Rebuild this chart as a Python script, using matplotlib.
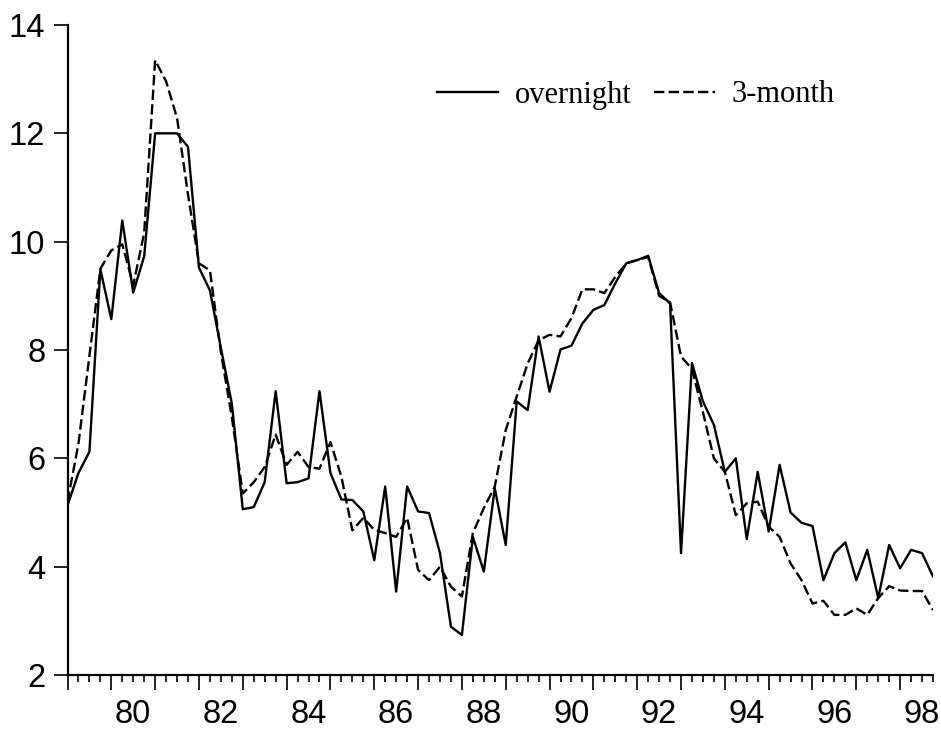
import numpy as np
from matplotlib import pyplot as plt
from matplotlib.ticker import FixedLocator, FuncFormatter, NullFormatter

# quarterly observations, 1979Q1 - 1998Q4
start_year = 1979
n_quarters = 80

overnight = [
    5.13, 5.73, 6.12, 9.49, 8.57, 10.39, 9.06, 9.73,
    12.0, 12.0, 12.0, 11.75, 9.52, 9.10, 8.04, 7.01,
    5.06, 5.10, 5.56, 7.24, 5.54, 5.56, 5.63, 7.24,
    5.73, 5.24, 5.23, 5.02, 4.12, 5.48, 3.54, 5.48,
    5.02, 4.99, 4.25, 2.89, 2.74, 4.55, 3.91, 5.45,
    4.40, 7.05, 6.89, 8.25, 7.23, 8.01, 8.08, 8.49,
    8.74, 8.83, 9.23, 9.60, 9.66, 9.74, 9.05, 8.86,
    4.25, 7.76, 7.05, 6.62, 5.75, 6.00, 4.51, 5.75,
    4.65, 5.88, 5.00, 4.81, 4.75, 3.75, 4.25, 4.45,
    3.75, 4.31, 3.42, 4.40, 3.97, 4.31, 4.25, 3.82,
]

three_month = [
    5.20, 6.27, 7.89, 9.50, 9.84, 9.95, 9.20, 10.16,
    13.35, 12.96, 12.28, 10.87, 9.60, 9.47, 7.96, 6.76,
    5.35, 5.56, 5.84, 6.44, 5.88, 6.12, 5.84, 5.81,
    6.30, 5.66, 4.67, 4.90, 4.68, 4.62, 4.55, 4.90,
    3.94, 3.75, 4.00, 3.63, 3.45, 4.62, 5.08, 5.48,
    6.52, 7.14, 7.75, 8.18, 8.28, 8.25, 8.59, 9.12,
    9.12, 9.05, 9.35, 9.60, 9.66, 9.72, 9.00, 8.88,
    7.88, 7.65, 6.85, 6.00, 5.75, 4.95, 5.17, 5.20,
    4.74, 4.55, 4.06, 3.75, 3.32, 3.37, 3.11, 3.11,
    3.23, 3.11, 3.42, 3.64, 3.56, 3.55, 3.55, 3.20,
]

yticks = [2, 4, 6, 8, 10, 12, 14]
labelled_years = list(range(1980, 1999, 2))

dates = start_year + np.arange(n_quarters) / 4.0
years = np.arange(start_year, start_year + n_quarters // 4)

fig = plt.figure(figsize=(9.41, 7.33), dpi=100)
ax = fig.add_axes([67.5 / 941, 58 / 733, 865.5 / 941, 650 / 733])

ax.plot(dates, overnight, color="black", lw=1.7, label="overnight")
ax.plot(dates, three_month, color="black", lw=1.7,
        linestyle=(0, (4.4, 1.8)), label="3-month")

ax.set_xlim(start_year, dates[-1])
ax.set_ylim(2, 14)

for side in ("top", "right"):
    ax.spines[side].set_visible(False)
for side in ("left", "bottom"):
    ax.spines[side].set_linewidth(1.6)

ax.set_yticks(yticks)
ax.tick_params(axis="y", direction="out", length=10, width=1.2, pad=6,
               labelsize=23.5)

# long ticks at year starts, short ones at quarters; labels mid-year
ax.xaxis.set_major_locator(FixedLocator(years))
ax.xaxis.set_major_formatter(NullFormatter())
quarters = [d for d in dates if d % 1 != 0]
ax.xaxis.set_minor_locator(FixedLocator(quarters))
ax.xaxis.set_minor_formatter(FuncFormatter(
    lambda x, pos: f"{int(x) % 100:02d}"
    if abs(x % 1 - 0.5) < 1e-6 and int(x) in labelled_years else ""))
ax.tick_params(axis="x", which="major", direction="out", length=11, width=1.2,
               labelbottom=False)
ax.tick_params(axis="x", which="minor", direction="out", length=5, width=1.2,
               pad=12, labelsize=23.5)

for lab in ax.get_xticklabels(minor=True) + ax.get_yticklabels():
    lab.set_fontfamily(["Liberation Sans", "DejaVu Sans"])
for lab in ax.get_yticklabels():
    lab.set_verticalalignment("center_baseline")

ax.legend(loc="center left", bbox_to_anchor=(437 / 941, 1 - 95 / 733),
          bbox_transform=fig.transFigure, ncol=2, frameon=False,
          borderpad=0, borderaxespad=0, handlelength=2.0,
          handletextpad=0.55, columnspacing=0.72,
          prop={"family": ["Liberation Serif", "DejaVu Serif"], "size": 22})

fig.savefig("out.png", dpi=100)
